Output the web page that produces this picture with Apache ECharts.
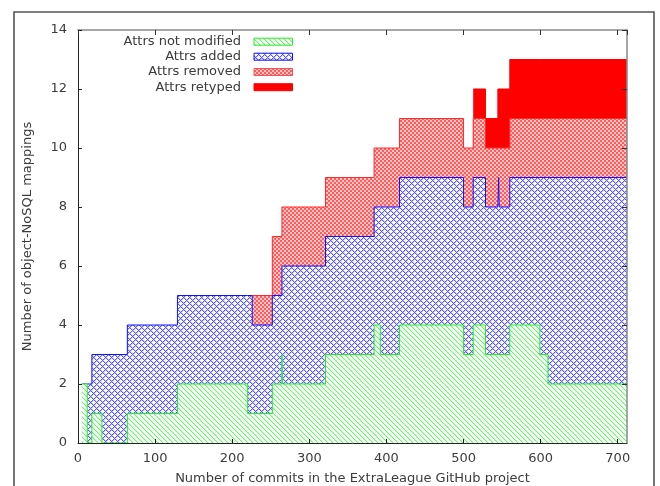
<!DOCTYPE html>
<html>
<head>
<meta charset="utf-8">
<script src="https://cdn.jsdelivr.net/npm/echarts@6/dist/echarts.min.js"></script>
<style>
html,body{margin:0;padding:0;background:#fff;}
#chart{width:660px;height:486px;}
</style>
</head>
<body>
<div id="chart"></div>
<script>
// ---- data (step change points: value holds until the next point) ----
const commits     = [5, 12, 18, 31, 64, 129, 220, 226, 252, 264.5, 265.3, 321, 384, 392, 417, 500, 512.5, 528.5, 544.5, 545.5, 546.3, 560, 599, 609.5, 712];
const notModified = [2, 0, 1, 0, 1, 2, 1, 1, 2, 3, 2, 3, 4, 3, 4, 3, 4, 3, 3, 3, 3, 4, 3, 2, 2];
const added       = [0, 2, 2, 3, 3, 3, 4, 3, 3, 3, 4, 4, 4, 5, 5, 5, 5, 5, 5, 6, 5, 5, 6, 7, 7];
const removed     = [null, null, null, null, null, null, null, 1, 2, 2, 2, 2, 2, 2, 2, 2, 2, 2, 2, 1, 2, 2, 2, 2, 2];
const retyped     = [null, null, null, null, null, null, null, null, null, null, null, null, null, null, null, null, 1, 1, 2, 2, 2, 2, 2, 2, 2];
const seriesNames = ['Attrs not modified', 'Attrs added', 'Attrs removed', 'Attrs retyped'];
const xTicks = [0, 100, 200, 300, 400, 500, 600, 700];
const yTicks = [0, 2, 4, 6, 8, 10, 12, 14];

// ---- patterns ----
function makeCanvas(w, h, fn) {
  const c = document.createElement('canvas');
  c.width = w; c.height = h;
  const ctx = c.getContext('2d');
  fn(ctx);
  return c;
}
function pixelPattern(w, h, bg, colorAt) {
  return makeCanvas(w, h, ctx => {
    if (bg) { ctx.fillStyle = bg; ctx.fillRect(0, 0, w, h); }
    for (let y = 0; y < h; y++) for (let x = 0; x < w; x++) {
      const c = colorAt(x, y);
      if (c) { ctx.fillStyle = c; ctx.fillRect(x, y, 1, 1); }
    }
  });
}
function greenPat(bg) {
  return pixelPattern(5, 5, bg, (x, y) => {
    const d = ((x - y) % 5 + 5) % 5;
    if (d === 0) return '#55ff55';
    if (d === 1) return '#d0ffd0';
    return null;
  });
}
function bluePat(bg) {
  return pixelPattern(6, 6, bg, (x, y) => {
    const a = (x + y) % 6, b = ((x - y) % 6 + 6) % 6;
    if (a === 0 || b === 0) return '#5a5aff';
    if (a === 1 || b === 1) return '#c4c4ff';
    return null;
  });
}
function redPat(bg) {
  return pixelPattern(4, 4, bg, (x, y) => {
    return (((x >> 1) + (y >> 1)) % 2 === 0) ? '#ff5c5c' : '#ffc4c4';
  });
}
const pat = c => ({ image: c, repeat: 'repeat' });

// cumulative tops
const cum = commits.map((_, i) => {
  const g = notModified[i];
  const b = g + added[i];
  const r = removed[i] == null ? null : b + removed[i];
  const t = retyped[i] == null ? null : r + retyped[i];
  return [g, b, r, t];
});
function seriesData(k) {
  const out = [];
  commits.forEach((x, i) => { if (cum[i][k] != null) out.push([x, cum[i][k]]); });
  return out;
}

const fontFamily = 'DejaVu Sans';
const textColor = '#3c3c3c';
const fs = 13;

const lineCols = ['#22ee22', '#1010ff', '#ff2a2a', '#ff0000'];
const fills = [pat(greenPat('#ffffff')), pat(bluePat('#ffffff')), pat(redPat('#ffffff')), '#ff0000'];

const series = [3, 2, 1, 0].map(k => ({
  name: seriesNames[k],
  type: 'line',
  step: 'end',
  data: seriesData(k),
  showSymbol: false,
  symbol: 'none',
  lineStyle: { color: lineCols[k], width: 1 },
  itemStyle: { color: lineCols[k] },
  areaStyle: { color: fills[k], opacity: 1 },
  z: 2 + (3 - k),
  animation: false,
  silent: true
}));

const chart = echarts.init(document.getElementById('chart'), null, { renderer: 'canvas' });

const legendRows = [41.7, 56.7, 72, 87.2];
const legendFills = [pat(greenPat(null)), pat(bluePat(null)), pat(redPat(null)), '#ff0000'];
const legendStroke = ['#22ee22', '#1010ff', '#ff5050', '#ff0000'];
const graphics = [
  { type: 'rect', shape: { x: 14, y: 12, width: 640, height: 490 },
    style: { fill: 'none', stroke: '#555', lineWidth: 1.6 }, z: 100, silent: true }
];
seriesNames.forEach((n, i) => {
  graphics.push({
    type: 'text', x: 241, y: legendRows[i], z: 100,
    style: { text: n, fill: textColor, font: fs + 'px "' + fontFamily + '"', textAlign: 'right', textVerticalAlign: 'middle' }
  });
  graphics.push({
    type: 'rect', shape: { x: 254, y: legendRows[i] - 3.5, width: 38.5, height: 7 }, z: 100,
    style: { fill: legendFills[i], stroke: legendStroke[i], lineWidth: 1 }
  });
});

const labelFmt = v => String(v);

chart.setOption({
  backgroundColor: '#ffffff',
  animation: false,
  textStyle: { fontFamily: fontFamily },
  grid: { left: 78, right: 33, top: 30, bottom: 43, containLabel: false, outerBoundsMode: 'none' },
  xAxis: [
    {
      type: 'value', min: xTicks[0], max: 712, interval: xTicks[1] - xTicks[0], position: 'bottom', z: 20,
      name: 'Number of commits in the ExtraLeague GitHub project',
      nameLocation: 'middle', nameGap: 29,
      nameTextStyle: { color: textColor, fontSize: fs, fontFamily: fontFamily },
      axisLine: { show: true, onZero: false, lineStyle: { color: '#222', width: 1 } },
      axisTick: { show: true, inside: true, length: 4, lineStyle: { color: '#222' } },
      axisLabel: { color: textColor, fontSize: fs, fontFamily: fontFamily, margin: 9, showMaxLabel: false, formatter: labelFmt },
      splitLine: { show: false }
    },
    {
      type: 'value', min: xTicks[0], max: 712, interval: xTicks[1] - xTicks[0], position: 'top', z: 20,
      axisLine: { show: true, onZero: false, lineStyle: { color: '#8a8a8a', width: 1.5 } },
      axisTick: { show: true, inside: true, length: 5, lineStyle: { color: '#333' } },
      axisLabel: { show: false },
      splitLine: { show: false }
    }
  ],
  yAxis: [
    {
      type: 'value', min: yTicks[0], max: yTicks[yTicks.length - 1], interval: yTicks[1] - yTicks[0], position: 'left', z: 20,
      name: 'Number of object-NoSQL mappings',
      nameLocation: 'middle', nameGap: 44,
      nameTextStyle: { color: textColor, fontSize: fs, fontFamily: fontFamily },
      axisLine: { show: true, onZero: false, lineStyle: { color: '#222', width: 1 } },
      axisTick: { show: true, inside: true, length: 4, lineStyle: { color: '#222' } },
      axisLabel: { color: textColor, fontSize: fs, fontFamily: fontFamily, margin: 11, formatter: labelFmt },
      splitLine: { show: false }
    },
    {
      type: 'value', min: yTicks[0], max: yTicks[yTicks.length - 1], interval: yTicks[1] - yTicks[0], position: 'right', z: 20,
      axisLine: { show: true, onZero: false, lineStyle: { color: '#8a8a8a', width: 1.5 } },
      axisTick: { show: true, inside: true, length: 5, lineStyle: { color: '#333' } },
      axisLabel: { show: false },
      splitLine: { show: false }
    }
  ],
  graphic: graphics,
  series: series
});
</script>
</body>
</html>
